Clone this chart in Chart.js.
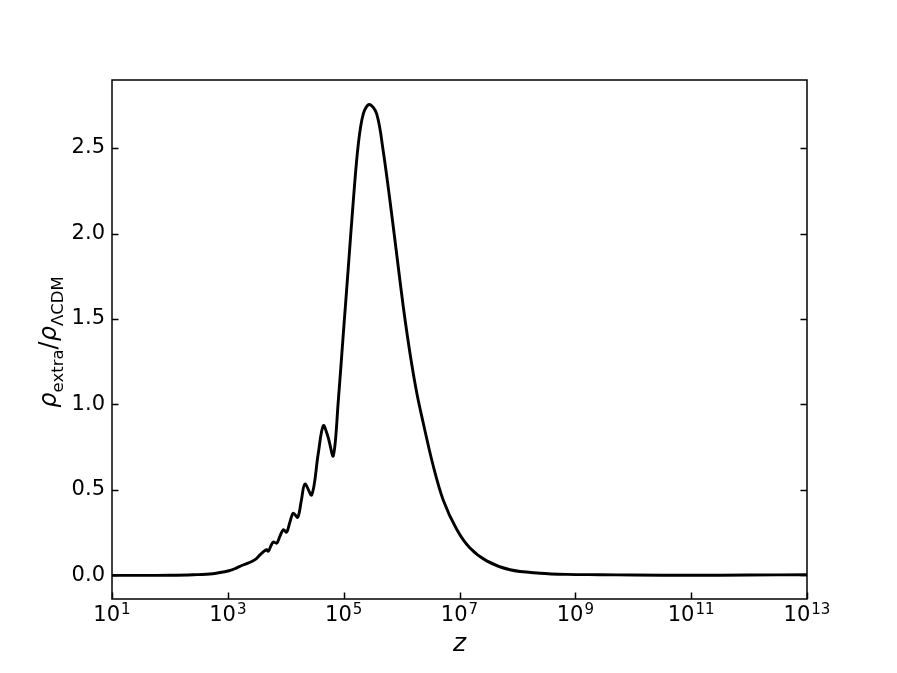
<!DOCTYPE html>
<html>
<head>
<meta charset="utf-8">
<script src="https://cdn.jsdelivr.net/npm/chart.js@4.4.0/dist/chart.umd.min.js"></script>
<style>
  body { margin: 0; background: #fff; }
  canvas { display: block; }
</style>
</head>
<body>
<canvas id="rhoChart" width="897" height="673"></canvas>
<script>
const logZ = [1.0, 1.5, 2.0, 2.4, 2.74, 3.04, 3.12, 3.24, 3.35, 3.47, 3.555, 3.61, 3.67, 3.70,
  3.74, 3.785, 3.845, 3.90, 3.958, 4.016, 4.07, 4.13, 4.206, 4.27, 4.332, 4.448, 4.56, 4.648,
  4.73, 4.821, 4.907, 4.993, 5.08, 5.166, 5.252, 5.339, 5.442, 5.57, 5.684, 5.8, 5.915,
  6.03, 6.145, 6.261, 6.375, 6.547, 6.72, 6.951, 7.181, 7.469, 7.872, 8.39, 8.851, 9.425,
  10.0, 11.0, 12.0, 13.0];
const rhoRatio = [0.0, 0.0, 0.001, 0.004, 0.01, 0.029, 0.039, 0.058, 0.072, 0.092, 0.12, 0.137, 0.15, 0.142,
  0.17, 0.195, 0.189, 0.23, 0.267, 0.253, 0.31, 0.364, 0.34, 0.44, 0.535, 0.471, 0.71, 0.876,
  0.81, 0.70, 1.02, 1.41, 1.80, 2.19, 2.52, 2.70, 2.755, 2.70, 2.48, 2.19, 1.88,
  1.57, 1.30, 1.07, 0.89, 0.64, 0.44, 0.27, 0.16, 0.085, 0.033, 0.013, 0.006, 0.004,
  0.002, 0.001, 0.002, 0.004];

const xTickExps = [1, 3, 5, 7, 9, 11, 13];
const yTicks = [0.0, 0.5, 1.0, 1.5, 2.0, 2.5];

const FONT = "'DejaVu Sans', sans-serif";

const points = logZ.map((e, i) => ({ x: Math.pow(10, e), y: rhoRatio[i] }));

// frame, inward ticks, x tick labels with exponents, axis labels
const mplDecor = {
    id: 'mplDecor',
    afterDraw(chart) {
        const ctx = chart.ctx;
        const a = chart.chartArea;
        const xs = chart.scales.x;
        const ys = chart.scales.y;
        const tl = 6.5;
        ctx.save();
        ctx.strokeStyle = '#000';
        ctx.lineWidth = 1.5;
        ctx.strokeRect(a.left, a.top, a.right - a.left, a.bottom - a.top);

        ctx.beginPath();
        yTicks.forEach(v => {
            const py = Math.round(ys.getPixelForValue(v)) + 0.5;
            ctx.moveTo(a.left, py); ctx.lineTo(a.left + tl, py);
            ctx.moveTo(a.right, py); ctx.lineTo(a.right - tl, py);
        });
        xTickExps.forEach(e => {
            const px = Math.round(xs.getPixelForValue(Math.pow(10, e))) + 0.5;
            ctx.moveTo(px, a.bottom); ctx.lineTo(px, a.bottom - tl);
        });
        ctx.stroke();

        // x tick labels: 10^n
        ctx.fillStyle = '#000';
        ctx.textBaseline = 'alphabetic';
        ctx.textAlign = 'left';
        xTickExps.forEach(e => {
            const px = xs.getPixelForValue(Math.pow(10, e));
            ctx.font = '21px ' + FONT;
            const wBase = ctx.measureText('10').width;
            ctx.font = '15px ' + FONT;
            const wExp = ctx.measureText(String(e)).width;
            const x0 = px - (wBase + wExp + 1) / 2;
            ctx.font = '21px ' + FONT;
            ctx.fillText('10', x0, 621);
            ctx.font = '15px ' + FONT;
            ctx.fillText(String(e), x0 + wBase + 1, 614);
        });

        // x axis label
        ctx.font = 'italic 25px ' + FONT;
        ctx.textAlign = 'center';
        ctx.fillText('z', (a.left + a.right) / 2, 651);

        // y axis label: rho_extra / rho_LambdaCDM
        const parts = [
            { t: 'ρ', f: 'italic 24px ' + FONT, dy: 0 },
            { t: 'extra', f: '16.5px ' + FONT, dy: 6.5 },
            { t: '/', f: '24px ' + FONT, dy: 0 },
            { t: 'ρ', f: 'italic 24px ' + FONT, dy: 0 },
            { t: 'ΛCDM', f: '16.5px ' + FONT, dy: 6.5 }
        ];
        let total = 0;
        parts.forEach(p => { ctx.font = p.f; p.w = ctx.measureText(p.t).width; total += p.w; });
        ctx.translate(56, 342);
        ctx.rotate(-Math.PI / 2);
        ctx.textAlign = 'left';
        let cx = -total / 2;
        parts.forEach(p => {
            ctx.font = p.f;
            ctx.fillText(p.t, cx, p.dy);
            cx += p.w;
        });
        ctx.restore();
    }
};

const ctx = document.getElementById('rhoChart').getContext('2d');
const chart = new Chart(ctx, {
    type: 'line',
    data: {
        datasets: [{
            data: points,
            borderColor: '#000',
            borderWidth: 2.9,
            pointRadius: 0,
            fill: false,
            tension: 0.35
        }]
    },
    options: {
        responsive: false,
        animation: false,
        devicePixelRatio: 1,
        layout: { padding: { left: 0, right: 90, top: 80, bottom: 0 } },
        plugins: {
            legend: { display: false },
            tooltip: { enabled: false }
        },
        scales: {
            x: {
                type: 'logarithmic',
                min: 10,
                max: 1e13,
                grid: { display: false, drawTicks: false },
                border: { display: false },
                ticks: { display: false },
                afterBuildTicks: scale => {
                    scale.ticks = xTickExps.map(e => ({ value: Math.pow(10, e) }));
                },
                afterFit: scale => { scale.height = 74; }
            },
            y: {
                type: 'linear',
                min: -0.138,
                max: 2.898,
                grid: { display: false, drawTicks: false },
                border: { display: false },
                ticks: {
                    color: '#000',
                    padding: 7,
                    font: { family: FONT, size: 21 },
                    callback: v => Number(v).toFixed(1)
                },
                afterBuildTicks: scale => {
                    scale.ticks = yTicks.map(v => ({ value: v }));
                },
                afterFit: scale => { scale.width = 112; }
            }
        }
    },
    plugins: [mplDecor]
});
</script>
</body>
</html>
